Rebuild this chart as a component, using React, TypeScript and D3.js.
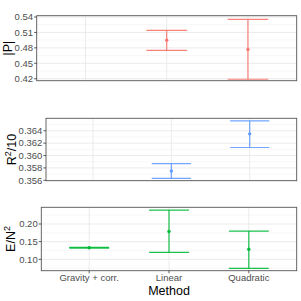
import React from 'react';
import * as d3 from 'd3';

const methods = ['Gravity + corr.', 'Linear', 'Quadratic'];

// |P| panel
const pMethods = ['Linear', 'Quadratic'];
const pMean = [0.495, 0.477];
const pLower = [0.475, 0.419];
const pUpper = [0.514, 0.5355];
const pTicks = [0.42, 0.45, 0.48, 0.51, 0.54];

// R^2/10 panel
const r2Methods = ['Linear', 'Quadratic'];
const r2Mean = [0.3575, 0.3635];
const r2Lower = [0.3563, 0.3613];
const r2Upper = [0.3587, 0.3656];
const r2Ticks = [0.356, 0.358, 0.36, 0.362, 0.364];

// E/N^2 panel
const enMethods = ['Gravity + corr.', 'Linear', 'Quadratic'];
const enMean = [0.1328, 0.179, 0.1283];
const enLower = [0.1318, 0.1198, 0.0745];
const enUpper = [0.1338, 0.2395, 0.18];
const enTicks = [0.1, 0.15, 0.2];

const FONT = '"Liberation Sans", Arial, sans-serif';
const RIGHT = 296.7;

type Panel = {
  key: string;
  top: number;
  bottom: number;
  left: number;
  domain: [number, number];
  ticks: number[];
  fmt: string;
  color: string;
  cats: string[];
  mean: number[];
  lower: number[];
  upper: number[];
  titleX: number;
  title: React.ReactNode;
  showX: boolean;
};

const panels: Panel[] = [
  {
    key: 'p', top: 15.7, bottom: 80.7, left: 36.7, domain: [0.4162, 0.5425],
    ticks: pTicks, fmt: '.2f', color: '#F8766D', cats: pMethods,
    mean: pMean, lower: pLower, upper: pUpper, titleX: 12,
    title: <tspan>|P|</tspan>, showX: false,
  },
  {
    key: 'r2', top: 118.3, bottom: 180.7, left: 46, domain: [0.35594, 0.36601],
    ticks: r2Ticks, fmt: '.3f', color: '#619CFF', cats: r2Methods,
    mean: r2Mean, lower: r2Lower, upper: r2Upper, titleX: 15.5,
    title: (
      <>
        <tspan>R</tspan>
        <tspan dy={-5} fontSize={9}>2</tspan>
        <tspan dy={5}>/10</tspan>
      </>
    ),
    showX: false,
  },
  {
    key: 'en', top: 207.3, bottom: 270.7, left: 41.3, domain: [0.0677, 0.2473],
    ticks: enTicks, fmt: '.2f', color: '#00BA38', cats: enMethods,
    mean: enMean, lower: enLower, upper: enUpper, titleX: 15,
    title: (
      <>
        <tspan>E/N</tspan>
        <tspan dy={-5} fontSize={9}>2</tspan>
      </>
    ),
    showX: true,
  },
];

function minorTicks(ticks: number[], domain: [number, number]) {
  const step = ticks[1] - ticks[0];
  const out: number[] = [];
  for (let i = -1; i < ticks.length; i++) {
    const v = ticks[0] + step * (i + 0.5);
    if (v > domain[0] && v < domain[1]) out.push(v);
  }
  return out;
}

const PanelView: React.FC<{ p: Panel }> = ({ p }) => {
  const x = d3.scalePoint<string>().domain(methods).range([p.left, RIGHT]).padding(0.6);
  const y = d3.scaleLinear().domain(p.domain).range([p.bottom, p.top]);
  const fmt = d3.format(p.fmt);
  const half = x.step() * 0.25;
  const minors = minorTicks(p.ticks, p.domain);
  const midY = (p.top + p.bottom) / 2;

  return (
    <g>
      <rect x={p.left} y={p.top} width={RIGHT - p.left} height={p.bottom - p.top} fill="#fff" />
      {minors.map(v => (
        <line key={'mi' + v} x1={p.left} x2={RIGHT} y1={y(v)} y2={y(v)} stroke="#f2f2f2" strokeWidth={0.6} />
      ))}
      {p.ticks.map(v => (
        <line key={'ma' + v} x1={p.left} x2={RIGHT} y1={y(v)} y2={y(v)} stroke="#ebebeb" strokeWidth={1} />
      ))}
      {methods.map(m => (
        <line key={'v' + m} x1={x(m)} x2={x(m)} y1={p.top} y2={p.bottom} stroke="#ebebeb" strokeWidth={1} />
      ))}
      {p.cats.map((c, i) => {
        const cx = x(c) as number;
        return (
          <g key={c} stroke={p.color} strokeWidth={1.2} strokeOpacity={0.9}>
            <line x1={cx} x2={cx} y1={y(p.lower[i])} y2={y(p.upper[i])} />
            <line x1={cx - half} x2={cx + half} y1={y(p.lower[i])} y2={y(p.lower[i])} />
            <line x1={cx - half} x2={cx + half} y1={y(p.upper[i])} y2={y(p.upper[i])} />
            <circle cx={cx} cy={y(p.mean[i])} r={1.7} fill={p.color} stroke="none" />
          </g>
        );
      })}
      <rect x={p.left} y={p.top} width={RIGHT - p.left} height={p.bottom - p.top} fill="none" stroke="#555" strokeWidth={0.9} />
      {p.ticks.map(v => (
        <g key={'t' + v}>
          <line x1={p.left - 2.6} x2={p.left} y1={y(v)} y2={y(v)} stroke="#333" strokeWidth={0.8} />
          <text x={p.left - 3.6} y={y(v)} dy="0.35em" textAnchor="end" fontSize={9.5} fill="#4d4d4d" fontFamily={FONT}>
            {fmt(v)}
          </text>
        </g>
      ))}
      <text
        transform={`translate(${p.titleX},${midY}) rotate(-90)`}
        textAnchor="middle" fontSize={12.5} fill="#000" fontFamily={FONT}
      >
        {p.title}
      </text>
      {p.showX && (
        <g>
          {methods.map(m => (
            <g key={'x' + m}>
              <line x1={x(m)} x2={x(m)} y1={p.bottom} y2={p.bottom + 2.6} stroke="#333" strokeWidth={0.8} />
              <text x={x(m)} y={p.bottom + 10.3} textAnchor="middle" fontSize={9.5} fill="#4d4d4d" fontFamily={FONT}>
                {m}
              </text>
            </g>
          ))}
          <text x={(p.left + RIGHT) / 2} y={p.bottom + 24.3} textAnchor="middle" fontSize={12.5} fill="#000" fontFamily={FONT}>
            Method
          </text>
        </g>
      )}
    </g>
  );
};

const App: React.FC = () => {
  return (
    <svg width={301} height={301} style={{ position: 'absolute', left: 0, top: 0, background: '#fff' }}>
      <rect width={301} height={301} fill="#fff" />
      {panels.map(p => (
        <PanelView key={p.key} p={p} />
      ))}
    </svg>
  );
};

export default App;
